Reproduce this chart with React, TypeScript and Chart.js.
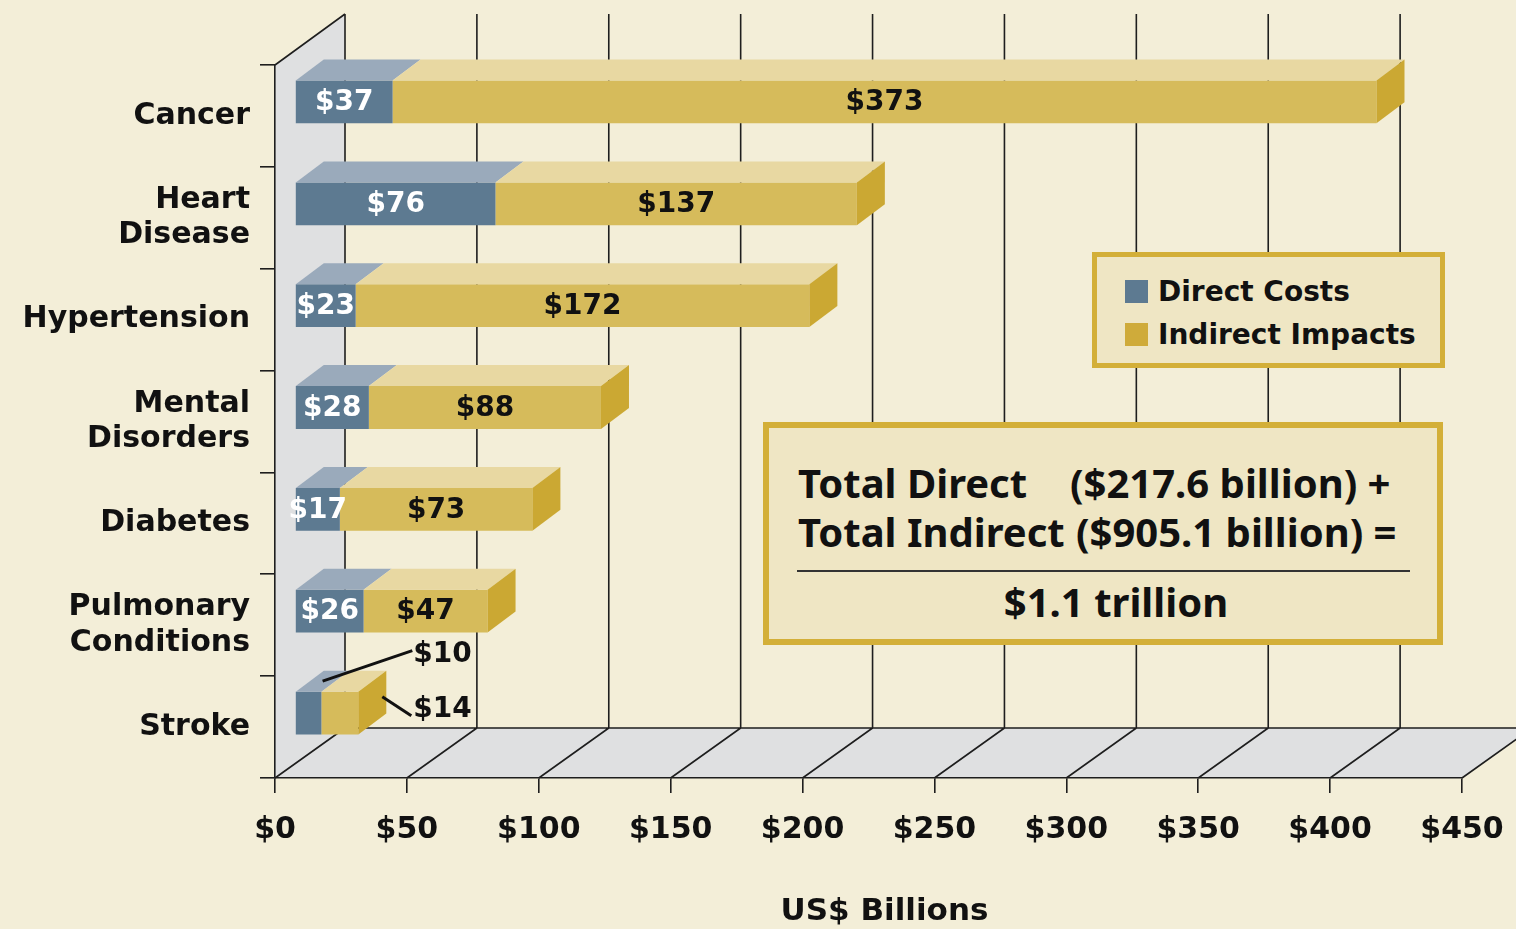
import React, { useEffect, useRef } from 'react';
import { Chart, registerables } from 'chart.js';

Chart.register(...registerables);

// ---------- data ----------
const categories: string[][] = [
  ['Cancer'],
  ['Heart', 'Disease'],
  ['Hypertension'],
  ['Mental', 'Disorders'],
  ['Diabetes'],
  ['Pulmonary', 'Conditions'],
  ['Stroke'],
];
const directCosts = [37, 76, 23, 28, 17, 26, 10];
const indirectImpacts = [373, 137, 172, 88, 73, 47, 14];
const seriesNames = ['Direct Costs', 'Indirect Impacts'];
const xMin = 0;
const xMax = 450;
const xStep = 50;
const xTitle = 'US$ Billions';
const totalLines = [
  ['Total Direct', '($217.6 billion) +'],
  ['Total Indirect', '($905.1 billion) ='],
];
const grandTotal = '$1.1 trillion';

// ---------- styles ----------
const BG = '#f3eed8';
const WALL = '#dfe0e1';
const LINE = '#1e1e1e';
const FRONT = ['#5d7a91', '#d6bb5b'];
const TOP = ['#9aaabb', '#e8d8a2'];
const SIDE = '#cba833';
const LEGEND_SWATCH = ['#5d7a91', '#cfab3a'];
const BOX_FILL = '#efe6c4';
const BOX_BORDER = '#d3af38';
const FONT = 'DejaVu Sans';

const BAR_DX = 20, BAR_DY = -14; // front face offset of bars into depth
const DEP_DX = 28, DEP_DY = -21; // bar depth
const WALL_DX = 70, WALL_DY = -50; // floor / wall depth

const threeD = {
  id: 'threeD',
  beforeDraw(chart: any) {
    const ctx = chart.ctx;
    const { left, right, top, bottom } = chart.chartArea;
    const xs = chart.scales.x;
    ctx.save();
    ctx.fillStyle = WALL;
    // left wall
    ctx.beginPath();
    ctx.moveTo(left, top);
    ctx.lineTo(left + WALL_DX, top + WALL_DY);
    ctx.lineTo(left + WALL_DX, bottom + WALL_DY);
    ctx.lineTo(left, bottom);
    ctx.closePath();
    ctx.fill();
    // floor
    ctx.beginPath();
    ctx.moveTo(left, bottom);
    ctx.lineTo(right, bottom);
    ctx.lineTo(right + WALL_DX, bottom + WALL_DY);
    ctx.lineTo(left + WALL_DX, bottom + WALL_DY);
    ctx.closePath();
    ctx.fill();

    ctx.strokeStyle = LINE;
    ctx.lineWidth = 1.6;
    ctx.beginPath();
    for (const t of xs.ticks) {
      const px = xs.getPixelForValue(t.value);
      ctx.moveTo(px + WALL_DX, top + WALL_DY - 1);
      ctx.lineTo(px + WALL_DX, bottom + WALL_DY);
      ctx.moveTo(px, bottom);
      ctx.lineTo(px + WALL_DX, bottom + WALL_DY);
    }
    ctx.moveTo(left + WALL_DX, bottom + WALL_DY);
    ctx.lineTo(right + WALL_DX, bottom + WALL_DY);
    ctx.moveTo(left, top);
    ctx.lineTo(left + WALL_DX, top + WALL_DY - 1);
    ctx.stroke();
    ctx.restore();
  },
  beforeDatasetsDraw(chart: any) {
    chart.ctx.save();
    chart.ctx.translate(BAR_DX, BAR_DY);
  },
  afterDatasetsDraw(chart: any) {
    const ctx = chart.ctx;
    const metas = chart.data.datasets.map((_: any, i: number) => chart.getDatasetMeta(i));
    const last = metas.length - 1;
    // faces
    metas.forEach((meta: any, di: number) => {
      meta.data.forEach((el: any) => {
        const { x, y, base, height } = el.getProps(['x', 'y', 'base', 'height'], true);
        const t = y - height / 2;
        const b = y + height / 2;
        ctx.fillStyle = TOP[di];
        ctx.beginPath();
        ctx.moveTo(base, t);
        ctx.lineTo(base + DEP_DX, t + DEP_DY);
        ctx.lineTo(x + DEP_DX, t + DEP_DY);
        ctx.lineTo(x, t);
        ctx.closePath();
        ctx.fill();
        if (di === last) {
          ctx.fillStyle = SIDE;
          ctx.beginPath();
          ctx.moveTo(x, t);
          ctx.lineTo(x + DEP_DX, t + DEP_DY);
          ctx.lineTo(x + DEP_DX, b + DEP_DY);
          ctx.lineTo(x, b);
          ctx.closePath();
          ctx.fill();
        }
      });
    });
    // labels
    ctx.font = `bold 28px "${FONT}"`;
    ctx.textBaseline = 'middle';
    metas.forEach((meta: any, di: number) => {
      const ds = chart.data.datasets[di];
      meta.data.forEach((el: any, i: number) => {
        const { x, y, base, height } = el.getProps(['x', 'y', 'base', 'height'], true);
        const t = y - height / 2;
        const stackRight = metas[last].data[i].getProps(['x'], true).x;
        const txt = '$' + ds.data[i];
        if (x - base >= 40) {
          ctx.textAlign = 'center';
          ctx.fillStyle = di === 0 ? '#ffffff' : '#111111';
          ctx.fillText(txt, (base + x) / 2, y + 1);
        } else {
          ctx.strokeStyle = '#111';
          ctx.lineWidth = 3;
          ctx.fillStyle = '#111';
          ctx.textAlign = 'left';
          ctx.beginPath();
          if (di === 0) {
            ctx.moveTo((base + x) / 2 + DEP_DX / 2, t + DEP_DY / 2);
            ctx.lineTo(stackRight + 54, t - 41);
            ctx.stroke();
            ctx.fillText(txt, stackRight + 55, t - 37);
          } else {
            ctx.moveTo(stackRight + 24, t + 5);
            ctx.lineTo(stackRight + 53, t + 24);
            ctx.stroke();
            ctx.fillText(txt, stackRight + 55, t + 18);
          }
        }
      });
    });
    ctx.restore();
  },
  afterDraw(chart: any) {
    // axis title, centred on the 3D floor
    const ctx = chart.ctx;
    const { left, right } = chart.chartArea;
    ctx.save();
    ctx.font = `bold 31px "${FONT}"`;
    ctx.fillStyle = '#111';
    ctx.textAlign = 'center';
    ctx.textBaseline = 'middle';
    ctx.fillText(xTitle, (left + right) / 2 + 16, 912);
    ctx.restore();
  },
};

export default function App() {
  const ref = useRef<HTMLCanvasElement>(null);
  useEffect(() => {
    document.body.style.margin = '0';
    const tickFont = { family: FONT, weight: 'bold' as const, size: 30 };
    const chart = new Chart(ref.current!, {
      type: 'bar',
      data: {
        labels: categories,
        datasets: [
          { label: seriesNames[0], data: directCosts, backgroundColor: FRONT[0], borderWidth: 0, clip: false as any },
          { label: seriesNames[1], data: indirectImpacts, backgroundColor: FRONT[1], borderWidth: 0, clip: false as any },
        ],
      },
      options: {
        indexAxis: 'y',
        responsive: false,
        devicePixelRatio: 1,
        animation: false,
        events: [],
        layout: { padding: { top: 65, right: 54, left: 0, bottom: 0 } },
        datasets: { bar: { barPercentage: 0.42, categoryPercentage: 1.0 } },
        plugins: { legend: { display: false }, tooltip: { enabled: false } },
        scales: {
          x: {
            type: 'linear',
            stacked: true,
            min: xMin,
            max: xMax,
            ticks: {
              stepSize: xStep,
              callback: (v: any) => '$' + v,
              font: tickFont,
              color: '#111',
              padding: 19,
              maxRotation: 0,
              autoSkip: false,
            },
            grid: { drawOnChartArea: false, drawTicks: true, tickLength: 15, color: LINE, lineWidth: 1.6 },
            border: { display: true, color: LINE, width: 1.6 },
            title: { display: false },
            afterFit: (s: any) => { s.height = 151; s.paddingRight = 0; s.paddingLeft = 0; },
          },
          y: {
            type: 'category',
            stacked: true,
            ticks: { font: { ...tickFont, lineHeight: 1.17 }, color: '#111', padding: 10 },
            grid: { offset: true, drawOnChartArea: false, drawTicks: true, tickLength: 15, color: LINE, lineWidth: 1.6 },
            border: { display: true, color: LINE, width: 1.6 },
            afterFit: (s: any) => { s.width = 275; s.paddingTop = 0; s.paddingBottom = 0; },
          },
        },
      },
      plugins: [threeD],
    });
    return () => chart.destroy();
  }, []);

  const legendText: React.CSSProperties = {
    fontFamily: FONT, fontWeight: 'bold', fontSize: 28, color: '#111', whiteSpace: 'nowrap',
  };
  const totFont: React.CSSProperties = {
    fontFamily: '"Noto Sans"', fontWeight: 'bold', fontSize: 40, color: '#111', whiteSpace: 'nowrap',
    position: 'absolute', lineHeight: '46px', height: 46,
  };

  return (
    <div style={{ position: 'relative', width: 1516, height: 929, background: BG, overflow: 'hidden' }}>
      <canvas ref={ref} width={1516} height={929} style={{ position: 'absolute', left: 0, top: 0 }} />
      <div style={{
        position: 'absolute', left: 1092, top: 252, width: 353, height: 116, boxSizing: 'border-box',
        border: `5px solid ${BOX_BORDER}`, background: BOX_FILL,
      }}>
        {seriesNames.map((n, i) => (
          <div key={n} style={{ position: 'absolute', left: 28, top: 14 + i * 43, height: 40, display: 'flex', alignItems: 'center' }}>
            <div style={{ width: 23, height: 23, background: LEGEND_SWATCH[i], marginRight: 10 }} />
            <span style={legendText}>{n}</span>
          </div>
        ))}
      </div>
      <div style={{
        position: 'absolute', left: 763, top: 422, width: 680, height: 223, boxSizing: 'border-box',
        border: `6px solid ${BOX_BORDER}`, background: BOX_FILL,
      }}>
        <span style={{ ...totFont, left: 29, top: 32 }}>{totalLines[0][0]}</span>
        <span style={{ ...totFont, left: 301, top: 32 }}>{totalLines[0][1]}</span>
        <span style={{ ...totFont, left: 29, top: 81 }}>{totalLines[1][0]}</span>
        <span style={{ ...totFont, left: 307, top: 81 }}>{totalLines[1][1]}</span>
        <div style={{ position: 'absolute', left: 28, width: 613, top: 142, height: 2, background: '#333' }} />
        <span style={{ ...totFont, left: 347, top: 151, transform: 'translateX(-50%)' }}>{grandTotal}</span>
      </div>
    </div>
  );
}
